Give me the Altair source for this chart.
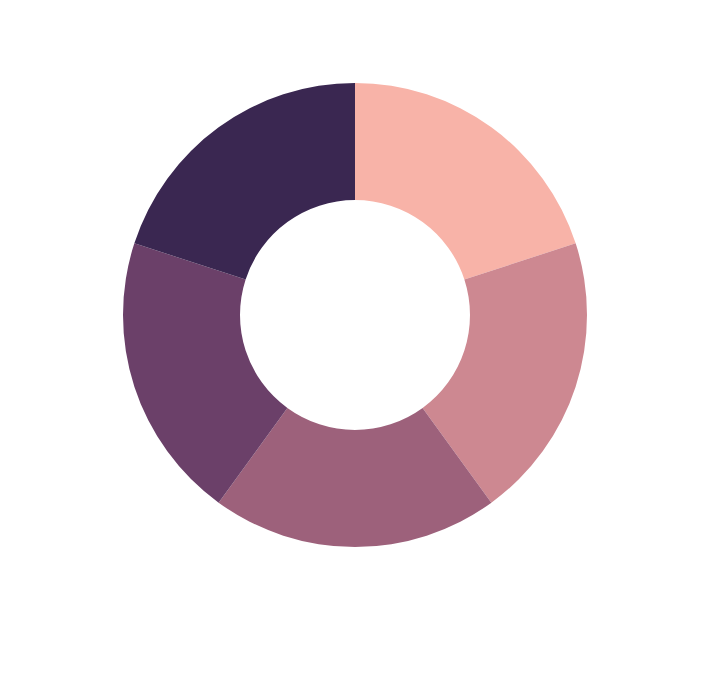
import altair as alt
import pandas as pd

categories = ["A", "B", "C", "D", "E"]
values = [1, 1, 1, 1, 1]
colors = ["#f8b3a8", "#cd8891", "#9d617b", "#6b4069", "#3a2751"]

df = pd.DataFrame({"category": categories, "value": values, "order": list(range(len(categories)))})

chart = alt.Chart(df).mark_arc(outerRadius=232, innerRadius=115).encode(
    theta=alt.Theta("value:Q", stack=True),
    color=alt.Color("category:N", scale=alt.Scale(domain=categories, range=colors), legend=None),
    order=alt.Order("order:Q"),
).properties(
    width=694, height=614, padding=0, autosize=alt.AutoSizeParams(type="none")
).configure_view(stroke=None)

chart.save("out.html", embed_options={"renderer": "svg", "actions": False})
